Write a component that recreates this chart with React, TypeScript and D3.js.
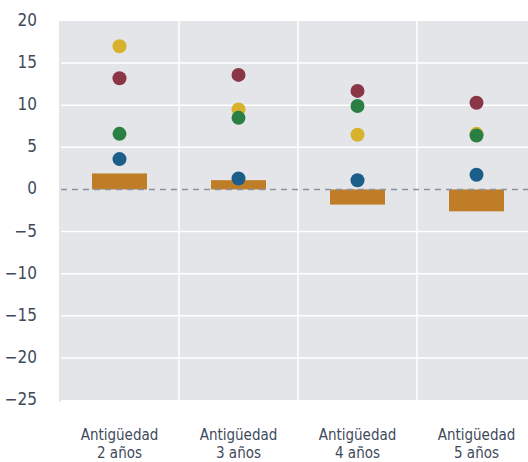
import React, { useEffect, useRef } from 'react';
import * as d3 from 'd3';

const categories = ['Antigüedad|2 años', 'Antigüedad|3 años', 'Antigüedad|4 años', 'Antigüedad|5 años'];
const barValues = [1.9, 1.1, -1.8, -2.6];
const yellowValues = [17.0, 9.5, 6.5, 6.6];
const redValues = [13.2, 13.6, 11.7, 10.3];
const greenValues = [6.6, 8.5, 9.9, 6.4];
const blueValues = [3.6, 1.3, 1.1, 1.75];
const yTicks = [20, 15, 10, 5, 0, -5, -10, -15, -20, -25];

const dotSeries = [
  { name: 'yellow', color: '#d8b22c', values: yellowValues },
  { name: 'red', color: '#8a3647', values: redValues },
  { name: 'green', color: '#2a8043', values: greenValues },
  { name: 'blue', color: '#1b5e8a', values: blueValues },
];

const FONT = '"DejaVu Sans Condensed", "Liberation Sans Narrow", "Liberation Sans", sans-serif';
const TEXT = '#3e4a5b';

export default function App() {
  const ref = useRef<SVGSVGElement>(null);

  useEffect(() => {
    const svg = d3.select(ref.current);
    svg.selectAll('*').remove();
    const width = 528;
    const left = 60;
    const right = 536;

    const x = d3.scaleBand().domain(categories).range([left, right]).padding(0);
    const y = d3.scaleLinear().domain([-25, 20]).range([400, 21]);

    svg.append('rect')
      .attr('x', left + 1).attr('y', y(20))
      .attr('width', width - left).attr('height', y(-25) - y(20))
      .attr('fill', '#e4e5e9');

    svg.append('line')
      .attr('x1', left).attr('x2', left)
      .attr('y1', y(20)).attr('y2', y(-25) + 2)
      .attr('stroke', '#dcdde0').attr('stroke-width', 1.5);

    svg.selectAll('.hgrid')
      .data(yTicks.filter((t) => t !== 20 && t !== 0 && t !== -25))
      .enter().append('line')
      .attr('x1', left + 1).attr('x2', width)
      .attr('y1', (d) => y(d)).attr('y2', (d) => y(d))
      .attr('stroke', '#ffffff').attr('stroke-width', 1.5);

    svg.selectAll('.vgrid')
      .data(categories.slice(1))
      .enter().append('line')
      .attr('x1', (d) => x(d)!).attr('x2', (d) => x(d)!)
      .attr('y1', y(20)).attr('y2', y(-25))
      .attr('stroke', '#ffffff').attr('stroke-width', 1.5);

    const bw = 55;
    svg.selectAll('.bar')
      .data(barValues)
      .enter().append('rect')
      .attr('x', (_, i) => x(categories[i])! + x.bandwidth() / 2 - bw / 2)
      .attr('y', (d) => y(Math.max(0, d)))
      .attr('width', bw)
      .attr('height', (d) => Math.abs(y(d) - y(0)))
      .attr('fill', '#c07d28');

    svg.append('line')
      .attr('x1', left + 1).attr('x2', width)
      .attr('y1', y(0)).attr('y2', y(0))
      .attr('stroke', '#8694a0').attr('stroke-width', 1.5)
      .attr('stroke-dasharray', '6,5');

    dotSeries.forEach((s) => {
      svg.selectAll(`.dot-${s.name}`)
        .data(s.values)
        .enter().append('circle')
        .attr('cx', (_, i) => x(categories[i])! + x.bandwidth() / 2)
        .attr('cy', (d) => y(d))
        .attr('r', 7)
        .attr('fill', s.color);
    });

    svg.selectAll('.ylab')
      .data(yTicks)
      .enter().append('text')
      .attr('x', 37)
      .attr('y', (d) => y(d) - 1)
      .attr('dy', '0.35em')
      .attr('text-anchor', 'end')
      .attr('font-family', FONT)
      .attr('font-size', 17)
      .attr('fill', TEXT)
      .text((d) => (d < 0 ? `\u2212${-d}` : `${d}`));

    const cat = svg.selectAll('.xlab')
      .data(categories)
      .enter().append('text')
      .attr('x', (d) => x(d)! + x.bandwidth() / 2)
      .attr('text-anchor', 'middle')
      .attr('font-family', FONT)
      .attr('font-size', 15)
      .attr('fill', TEXT);
    cat.append('tspan')
      .attr('x', (d) => x(d)! + x.bandwidth() / 2)
      .attr('y', 440)
      .text((d) => d.split('|')[0]);
    cat.append('tspan')
      .attr('x', (d) => x(d)! + x.bandwidth() / 2)
      .attr('y', 458)
      .text((d) => d.split('|')[1]);
  });

  return (
    <div style={{ position: 'absolute', left: 0, top: 0 }}>
      <svg ref={ref} width={528} height={462} style={{ display: 'block', background: '#ffffff' }} />
    </div>
  );
}
